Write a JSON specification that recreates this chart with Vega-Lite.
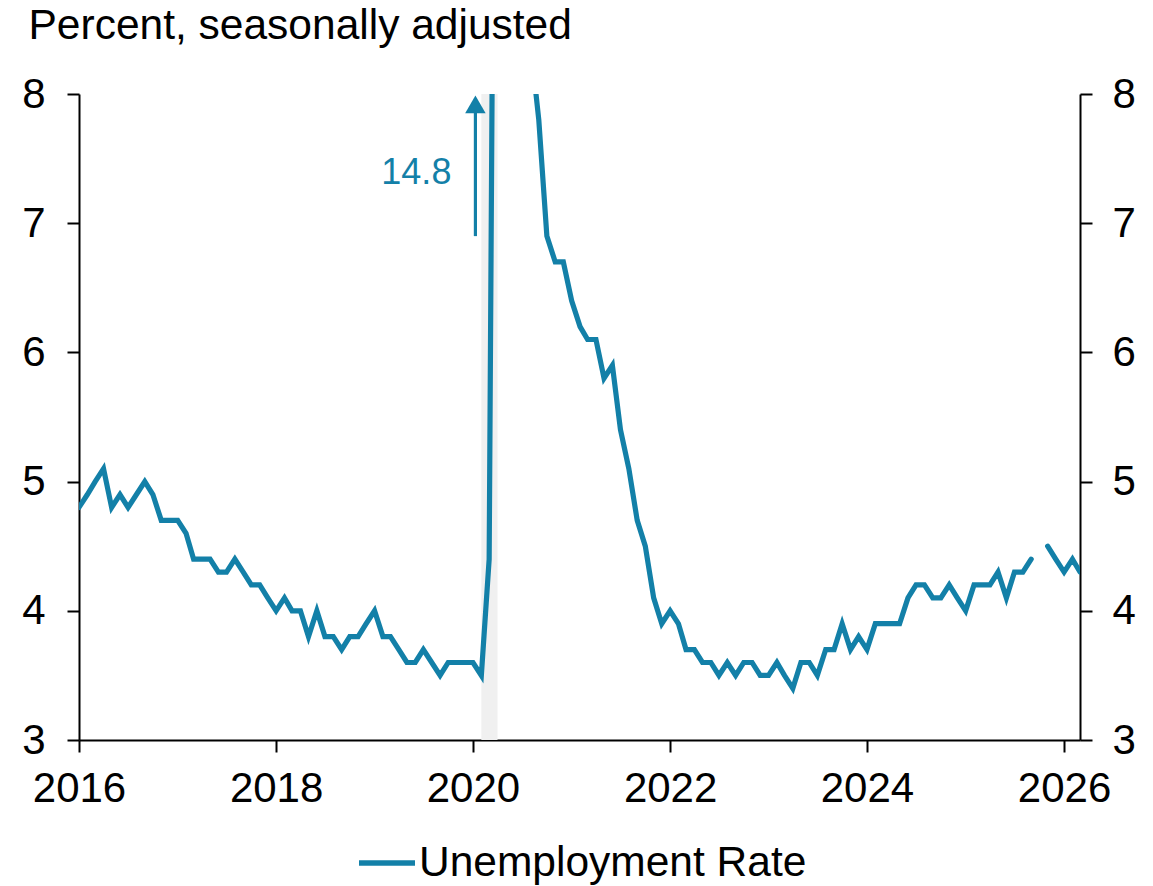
{
  "$schema": "https://vega.github.io/schema/vega-lite/v6.json",
  "width": 1001,
  "height": 646,
  "autosize": {"type": "none"},
  "padding": {"left": 79, "top": 94, "right": 73, "bottom": 146},
  "background": "white",
  "config": {
    "view": {"stroke": null},
    "font": "Liberation Sans",
    "axis": {
      "domainColor": "black",
      "domainWidth": 2,
      "tickColor": "black",
      "tickWidth": 2,
      "tickSize": 12,
      "labelColor": "black",
      "labelFontSize": 42,
      "labelFont": "Liberation Sans",
      "grid": false,
      "labelFlush": false,
      "labelOverlap": false,
      "labelBound": false
    }
  },
  "datasets": {
    "ur": [
      {"date": "2016-01-01", "value": 4.8, "series": "Unemployment Rate"},
      {"date": "2016-02-01", "value": 4.9, "series": "Unemployment Rate"},
      {"date": "2016-03-01", "value": 5.0, "series": "Unemployment Rate"},
      {"date": "2016-04-01", "value": 5.1, "series": "Unemployment Rate"},
      {"date": "2016-05-01", "value": 4.8, "series": "Unemployment Rate"},
      {"date": "2016-06-01", "value": 4.9, "series": "Unemployment Rate"},
      {"date": "2016-07-01", "value": 4.8, "series": "Unemployment Rate"},
      {"date": "2016-08-01", "value": 4.9, "series": "Unemployment Rate"},
      {"date": "2016-09-01", "value": 5.0, "series": "Unemployment Rate"},
      {"date": "2016-10-01", "value": 4.9, "series": "Unemployment Rate"},
      {"date": "2016-11-01", "value": 4.7, "series": "Unemployment Rate"},
      {"date": "2016-12-01", "value": 4.7, "series": "Unemployment Rate"},
      {"date": "2017-01-01", "value": 4.7, "series": "Unemployment Rate"},
      {"date": "2017-02-01", "value": 4.6, "series": "Unemployment Rate"},
      {"date": "2017-03-01", "value": 4.4, "series": "Unemployment Rate"},
      {"date": "2017-04-01", "value": 4.4, "series": "Unemployment Rate"},
      {"date": "2017-05-01", "value": 4.4, "series": "Unemployment Rate"},
      {"date": "2017-06-01", "value": 4.3, "series": "Unemployment Rate"},
      {"date": "2017-07-01", "value": 4.3, "series": "Unemployment Rate"},
      {"date": "2017-08-01", "value": 4.4, "series": "Unemployment Rate"},
      {"date": "2017-09-01", "value": 4.3, "series": "Unemployment Rate"},
      {"date": "2017-10-01", "value": 4.2, "series": "Unemployment Rate"},
      {"date": "2017-11-01", "value": 4.2, "series": "Unemployment Rate"},
      {"date": "2017-12-01", "value": 4.1, "series": "Unemployment Rate"},
      {"date": "2018-01-01", "value": 4.0, "series": "Unemployment Rate"},
      {"date": "2018-02-01", "value": 4.1, "series": "Unemployment Rate"},
      {"date": "2018-03-01", "value": 4.0, "series": "Unemployment Rate"},
      {"date": "2018-04-01", "value": 4.0, "series": "Unemployment Rate"},
      {"date": "2018-05-01", "value": 3.8, "series": "Unemployment Rate"},
      {"date": "2018-06-01", "value": 4.0, "series": "Unemployment Rate"},
      {"date": "2018-07-01", "value": 3.8, "series": "Unemployment Rate"},
      {"date": "2018-08-01", "value": 3.8, "series": "Unemployment Rate"},
      {"date": "2018-09-01", "value": 3.7, "series": "Unemployment Rate"},
      {"date": "2018-10-01", "value": 3.8, "series": "Unemployment Rate"},
      {"date": "2018-11-01", "value": 3.8, "series": "Unemployment Rate"},
      {"date": "2018-12-01", "value": 3.9, "series": "Unemployment Rate"},
      {"date": "2019-01-01", "value": 4.0, "series": "Unemployment Rate"},
      {"date": "2019-02-01", "value": 3.8, "series": "Unemployment Rate"},
      {"date": "2019-03-01", "value": 3.8, "series": "Unemployment Rate"},
      {"date": "2019-04-01", "value": 3.7, "series": "Unemployment Rate"},
      {"date": "2019-05-01", "value": 3.6, "series": "Unemployment Rate"},
      {"date": "2019-06-01", "value": 3.6, "series": "Unemployment Rate"},
      {"date": "2019-07-01", "value": 3.7, "series": "Unemployment Rate"},
      {"date": "2019-08-01", "value": 3.6, "series": "Unemployment Rate"},
      {"date": "2019-09-01", "value": 3.5, "series": "Unemployment Rate"},
      {"date": "2019-10-01", "value": 3.6, "series": "Unemployment Rate"},
      {"date": "2019-11-01", "value": 3.6, "series": "Unemployment Rate"},
      {"date": "2019-12-01", "value": 3.6, "series": "Unemployment Rate"},
      {"date": "2020-01-01", "value": 3.6, "series": "Unemployment Rate"},
      {"date": "2020-02-01", "value": 3.5, "series": "Unemployment Rate"},
      {"date": "2020-03-01", "value": 4.4, "series": "Unemployment Rate"},
      {"date": "2020-04-01", "value": 14.8, "series": "Unemployment Rate"},
      {"date": "2020-05-01", "value": 13.2, "series": "Unemployment Rate"},
      {"date": "2020-06-01", "value": 11.0, "series": "Unemployment Rate"},
      {"date": "2020-07-01", "value": 10.2, "series": "Unemployment Rate"},
      {"date": "2020-08-01", "value": 8.4, "series": "Unemployment Rate"},
      {"date": "2020-09-01", "value": 7.8, "series": "Unemployment Rate"},
      {"date": "2020-10-01", "value": 6.9, "series": "Unemployment Rate"},
      {"date": "2020-11-01", "value": 6.7, "series": "Unemployment Rate"},
      {"date": "2020-12-01", "value": 6.7, "series": "Unemployment Rate"},
      {"date": "2021-01-01", "value": 6.4, "series": "Unemployment Rate"},
      {"date": "2021-02-01", "value": 6.2, "series": "Unemployment Rate"},
      {"date": "2021-03-01", "value": 6.1, "series": "Unemployment Rate"},
      {"date": "2021-04-01", "value": 6.1, "series": "Unemployment Rate"},
      {"date": "2021-05-01", "value": 5.8, "series": "Unemployment Rate"},
      {"date": "2021-06-01", "value": 5.9, "series": "Unemployment Rate"},
      {"date": "2021-07-01", "value": 5.4, "series": "Unemployment Rate"},
      {"date": "2021-08-01", "value": 5.1, "series": "Unemployment Rate"},
      {"date": "2021-09-01", "value": 4.7, "series": "Unemployment Rate"},
      {"date": "2021-10-01", "value": 4.5, "series": "Unemployment Rate"},
      {"date": "2021-11-01", "value": 4.1, "series": "Unemployment Rate"},
      {"date": "2021-12-01", "value": 3.9, "series": "Unemployment Rate"},
      {"date": "2022-01-01", "value": 4.0, "series": "Unemployment Rate"},
      {"date": "2022-02-01", "value": 3.9, "series": "Unemployment Rate"},
      {"date": "2022-03-01", "value": 3.7, "series": "Unemployment Rate"},
      {"date": "2022-04-01", "value": 3.7, "series": "Unemployment Rate"},
      {"date": "2022-05-01", "value": 3.6, "series": "Unemployment Rate"},
      {"date": "2022-06-01", "value": 3.6, "series": "Unemployment Rate"},
      {"date": "2022-07-01", "value": 3.5, "series": "Unemployment Rate"},
      {"date": "2022-08-01", "value": 3.6, "series": "Unemployment Rate"},
      {"date": "2022-09-01", "value": 3.5, "series": "Unemployment Rate"},
      {"date": "2022-10-01", "value": 3.6, "series": "Unemployment Rate"},
      {"date": "2022-11-01", "value": 3.6, "series": "Unemployment Rate"},
      {"date": "2022-12-01", "value": 3.5, "series": "Unemployment Rate"},
      {"date": "2023-01-01", "value": 3.5, "series": "Unemployment Rate"},
      {"date": "2023-02-01", "value": 3.6, "series": "Unemployment Rate"},
      {"date": "2023-03-01", "value": 3.5, "series": "Unemployment Rate"},
      {"date": "2023-04-01", "value": 3.4, "series": "Unemployment Rate"},
      {"date": "2023-05-01", "value": 3.6, "series": "Unemployment Rate"},
      {"date": "2023-06-01", "value": 3.6, "series": "Unemployment Rate"},
      {"date": "2023-07-01", "value": 3.5, "series": "Unemployment Rate"},
      {"date": "2023-08-01", "value": 3.7, "series": "Unemployment Rate"},
      {"date": "2023-09-01", "value": 3.7, "series": "Unemployment Rate"},
      {"date": "2023-10-01", "value": 3.9, "series": "Unemployment Rate"},
      {"date": "2023-11-01", "value": 3.7, "series": "Unemployment Rate"},
      {"date": "2023-12-01", "value": 3.8, "series": "Unemployment Rate"},
      {"date": "2024-01-01", "value": 3.7, "series": "Unemployment Rate"},
      {"date": "2024-02-01", "value": 3.9, "series": "Unemployment Rate"},
      {"date": "2024-03-01", "value": 3.9, "series": "Unemployment Rate"},
      {"date": "2024-04-01", "value": 3.9, "series": "Unemployment Rate"},
      {"date": "2024-05-01", "value": 3.9, "series": "Unemployment Rate"},
      {"date": "2024-06-01", "value": 4.1, "series": "Unemployment Rate"},
      {"date": "2024-07-01", "value": 4.2, "series": "Unemployment Rate"},
      {"date": "2024-08-01", "value": 4.2, "series": "Unemployment Rate"},
      {"date": "2024-09-01", "value": 4.1, "series": "Unemployment Rate"},
      {"date": "2024-10-01", "value": 4.1, "series": "Unemployment Rate"},
      {"date": "2024-11-01", "value": 4.2, "series": "Unemployment Rate"},
      {"date": "2024-12-01", "value": 4.1, "series": "Unemployment Rate"},
      {"date": "2025-01-01", "value": 4.0, "series": "Unemployment Rate"},
      {"date": "2025-02-01", "value": 4.2, "series": "Unemployment Rate"},
      {"date": "2025-03-01", "value": 4.2, "series": "Unemployment Rate"},
      {"date": "2025-04-01", "value": 4.2, "series": "Unemployment Rate"},
      {"date": "2025-05-01", "value": 4.3, "series": "Unemployment Rate"},
      {"date": "2025-06-01", "value": 4.1, "series": "Unemployment Rate"},
      {"date": "2025-07-01", "value": 4.3, "series": "Unemployment Rate"},
      {"date": "2025-08-01", "value": 4.3, "series": "Unemployment Rate"},
      {"date": "2025-09-01", "value": 4.4, "series": "Unemployment Rate"},
      {"date": "2025-10-01", "value": null, "series": "Unemployment Rate"},
      {"date": "2025-11-01", "value": 4.5, "series": "Unemployment Rate"},
      {"date": "2025-12-01", "value": 4.4, "series": "Unemployment Rate"},
      {"date": "2026-01-01", "value": 4.3, "series": "Unemployment Rate"},
      {"date": "2026-02-01", "value": 4.4, "series": "Unemployment Rate"},
      {"date": "2026-03-01", "value": 4.3, "series": "Unemployment Rate"}
    ],
    "recession": [
      {"start": "2020-02-01", "end": "2020-04-01"}
    ],
    "note": [
      {"date": "2020-01-10", "low": 6.9, "high": 7.86, "tip": 7.92, "labelY": 7.3, "label": "14.8"}
    ]
  },
  "layer": [
    {
      "data": {"name": "recession"},
      "mark": {"type": "rect", "color": "#f0f0f0"},
      "encoding": {
        "x": {"field": "start", "type": "temporal", "title": null,
              "scale": {"type": "utc", "domain": [{"year": 2016, "month": 1, "date": 1, "utc": true}, {"year": 2026, "month": 3, "date": 1, "utc": true}]}},
        "x2": {"field": "end"},
        "y": {"datum": 3, "type": "quantitative",
              "scale": {"domain": [3, 8], "nice": false, "zero": false},
              "axis": {"orient": "right", "title": null, "values": [3, 4, 5, 6, 7, 8], "labelPadding": 20}},
        "y2": {"datum": 8}
      }
    },
    {
      "data": {"name": "ur"},
      "mark": {"type": "line", "strokeWidth": 5.2, "clip": true, "invalid": "break-paths-filter-domains", "strokeCap": "round"},
      "encoding": {
        "x": {"field": "date", "type": "temporal", "title": null,
              "axis": {"values": [{"year": 2016, "utc": true}, {"year": 2018, "utc": true}, {"year": 2020, "utc": true}, {"year": 2022, "utc": true}, {"year": 2024, "utc": true}, {"year": 2026, "utc": true}],
                       "format": "%Y", "labelPadding": 16}},
        "y": {"field": "value", "type": "quantitative",
              "axis": {"orient": "left", "values": [3, 4, 5, 6, 7, 8], "labelPadding": 22,
                       "title": "Percent, seasonally adjusted", "titleAngle": 0, "titleX": -51, "titleY": -56,
                       "titleAlign": "left", "titleBaseline": "alphabetic", "titleFontSize": 42.5,
                       "titleFontWeight": "normal", "titleColor": "black", "titleFont": "Liberation Sans"}},
        "color": {"field": "series", "type": "nominal",
                  "scale": {"range": ["#1380A8"]},
                  "legend": {"title": null, "orient": "none", "legendX": 277, "legendY": 738,
                             "symbolType": "stroke", "symbolSize": 3136, "symbolStrokeWidth": 5.5,
                             "labelFontSize": 42.5, "labelColor": "black", "labelOffset": 1,
                             "labelFont": "Liberation Sans", "padding": 0, "labelLimit": 600}}
      }
    },
    {
      "data": {"name": "note"},
      "mark": {"type": "rule", "color": "#1380A8", "strokeWidth": 3.2},
      "encoding": {
        "x": {"field": "date", "type": "temporal", "title": null},
        "y": {"field": "low", "type": "quantitative", "axis": null},
        "y2": {"field": "high"}
      }
    },
    {
      "data": {"name": "note"},
      "mark": {"type": "point", "shape": "triangle-up", "filled": true, "color": "#1380A8", "size": 420, "opacity": 1},
      "encoding": {
        "x": {"field": "date", "type": "temporal", "title": null},
        "y": {"field": "tip", "type": "quantitative", "axis": null}
      }
    },
    {
      "data": {"name": "note"},
      "mark": {"type": "text", "color": "#1380A8", "fontSize": 36, "align": "right", "baseline": "alphabetic", "dx": -24, "font": "Liberation Sans"},
      "encoding": {
        "x": {"field": "date", "type": "temporal", "title": null},
        "y": {"field": "labelY", "type": "quantitative", "axis": null},
        "text": {"field": "label"}
      }
    }
  ],
  "resolve": {"axis": {"y": "independent"}}
}
